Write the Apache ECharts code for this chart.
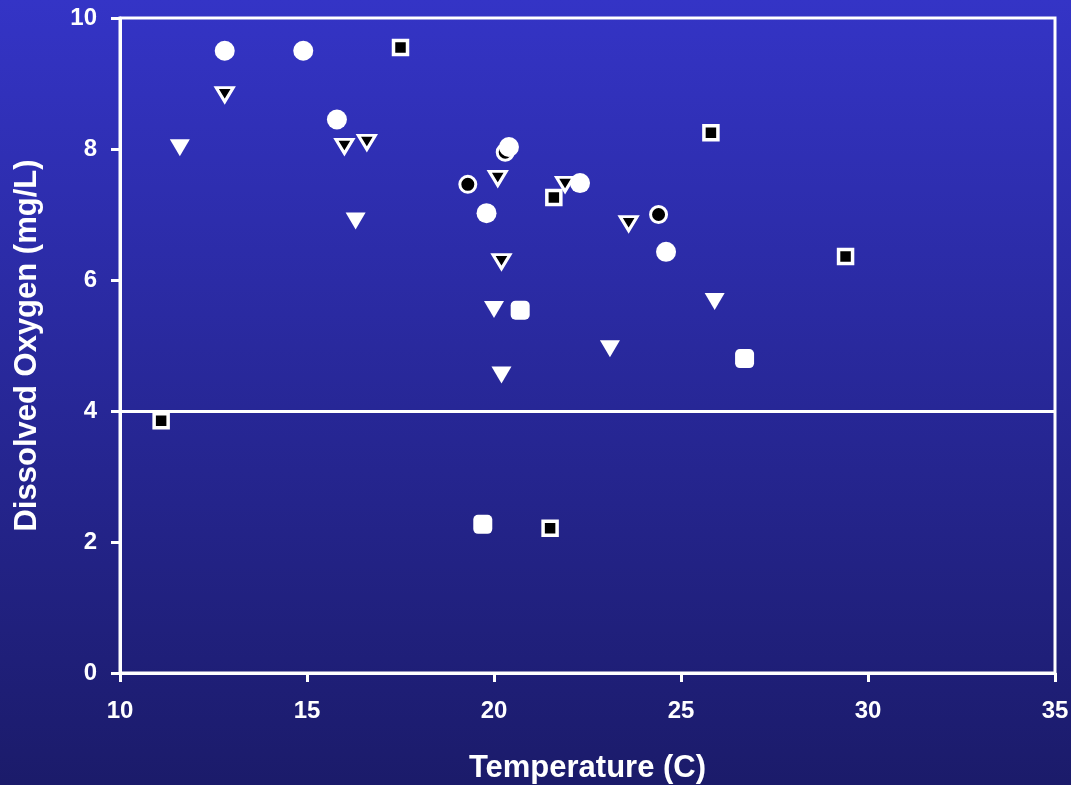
<!DOCTYPE html>
<html><head><meta charset="utf-8">
<script src="https://cdn.jsdelivr.net/npm/echarts@6/dist/echarts.min.js"></script>
<style>html,body{margin:0;padding:0;background:#2a2aa0}#c{width:1071px;height:785px}</style>
</head><body><div id="c"></div>
<script>
// Data (Temperature C, Dissolved Oxygen mg/L)
const whiteCircles = [[12.8,9.5],[14.9,9.5],[15.8,8.45],[20.4,8.03],[19.8,7.02],[22.3,7.48],[24.6,6.43]];
const blackCircles = [[19.3,7.46],[20.3,7.95],[24.4,7.0]];
const whiteTriangles = [[11.6,8.02],[16.3,6.9],[20.0,5.55],[20.2,4.55],[23.1,4.95],[25.9,5.67]];
const blackTriangles = [[12.8,8.83],[16.0,8.04],[16.6,8.1],[20.1,7.55],[20.2,6.28],[21.9,7.46],[23.6,6.86]];
const whiteSquares = [[20.7,5.54],[26.7,4.8],[19.7,2.27]];
const blackSquares = [[17.5,9.55],[25.8,8.25],[21.6,7.26],[29.4,6.36],[11.1,3.85],[21.5,2.21]];
const xTicks = {min:10, max:35, interval:5};
const yTicks = {min:0, max:10, interval:2};
const thresholdDO = 4;
const xTitle = 'Temperature (C)';
const yTitle = 'Dissolved Oxygen (mg/L)';

const chart = echarts.init(document.getElementById('c'));
const font = '"Liberation Sans", Arial, sans-serif';
const W = '#ffffff';
function s(data, symbol, size, color, border, rotate){
  return {type:'scatter', data, symbol, symbolSize:size, symbolRotate:rotate||0,
    itemStyle:{color, borderColor:W, borderWidth:border, opacity:1}, z:3,
    emphasis:{disabled:true}};
}
chart.setOption({
  animation:false,
  backgroundColor:{type:'linear',x:0,y:0,x2:0,y2:1,colorStops:[{offset:0,color:'#3434c6'},{offset:1,color:'#1b1b6a'}]},
  grid:{left:120,right:16,top:18,bottom:112,outerBoundsMode:'none',containLabel:false,
    show:true,borderColor:W,borderWidth:3,backgroundColor:'transparent'},
  xAxis:{type:'value',min:xTicks.min,max:xTicks.max,interval:xTicks.interval,
    name:xTitle,nameLocation:'middle',nameGap:80,
    nameTextStyle:{color:W,fontSize:31,fontWeight:'bold',fontFamily:font},
    axisLine:{show:true,onZero:false,lineStyle:{color:W,width:3}},
    axisTick:{show:true,length:9,lineStyle:{color:W,width:3}},
    axisLabel:{color:W,fontSize:24,fontWeight:'bold',fontFamily:font,margin:26},
    splitLine:{show:false}},
  yAxis:{type:'value',min:yTicks.min,max:yTicks.max,interval:yTicks.interval,
    name:yTitle,nameLocation:'middle',nameGap:77,
    nameTextStyle:{color:W,fontSize:31,fontWeight:'bold',fontFamily:font},
    axisLine:{show:true,onZero:false,lineStyle:{color:W,width:3}},
    axisTick:{show:true,length:9,lineStyle:{color:W,width:3}},
    axisLabel:{color:W,fontSize:24,fontWeight:'bold',fontFamily:font,margin:23},
    splitLine:{show:false}},
  series:[
    Object.assign(s(blackTriangles,'triangle',[17,14],'#000',3,180),{
      markLine:{silent:true,symbol:'none',label:{show:false},
        lineStyle:{color:W,width:3,type:'solid'},data:[{yAxis:thresholdDO}]}}),
    s(blackCircles,'circle',16,'#000',3),
    s(blackSquares,'rect',14,'#000',3.5),
    s(whiteTriangles,'triangle',[20,17],W,0,180),
    s(whiteSquares,'roundRect',19,W,0),
    s(whiteCircles,'circle',20,W,0)
  ]
});
</script></body></html>
